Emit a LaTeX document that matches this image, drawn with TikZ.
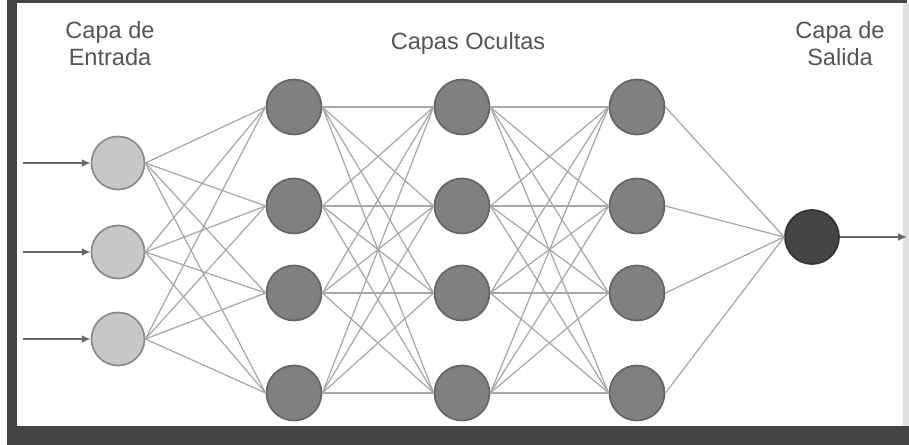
\documentclass[tikz,border=0pt]{standalone}
\usepackage{fontspec}
\setmainfont{Liberation Sans}
\usetikzlibrary{arrows.meta}
\definecolor{frame}{HTML}{444444}
\definecolor{labelgray}{HTML}{555555}
\definecolor{wire}{HTML}{A8A8A8}
\begin{document}
\begin{tikzpicture}[
  inp/.style={circle,draw=black!45,fill=black!22,line width=0.5pt,minimum size=0.53cm,inner sep=0pt},
  hid/.style={circle,draw=black!60,fill=black!50,line width=0.5pt,minimum size=0.55cm,inner sep=0pt},
  outp/.style={circle,draw=black!80,fill=black!73,line width=0.5pt,minimum size=0.54cm,inner sep=0pt},
  wire/.style={draw=wire,line width=0.35pt},
  feed/.style={draw=black!60,line width=0.45pt,-{Latex[length=2.5pt,width=2.2pt]}},
  ttl/.style={align=center,text=labelgray,font=\fontsize{6.7}{7.7}\selectfont},
]
  % canvas and frame
  \useasboundingbox (0,0) rectangle (9.09,4.45);
  \fill[white] (0,0) rectangle (9.09,4.45);
  \fill[black!12] (9.03,0.19) rectangle (9.09,4.42);
  \fill[frame] (0.07,0) rectangle (0.17,4.45);
  \fill[frame] (0.07,0) rectangle (9.09,0.19);
  \fill[frame] (0.07,4.42) rectangle (9.07,4.45);

  % titles
  \node[ttl] (tin)  at (1.10,4.01) {Capa de\\Entrada};
  \node[ttl] (thid) at (4.68,4.02) {Capas Ocultas};
  \node[ttl] (tout) at (8.40,4.01) {Capa de\\Salida};

  % input layer
  \coordinate (s1) at (0.23,2.82);
  \coordinate (s2) at (0.23,1.93);
  \coordinate (s3) at (0.23,1.06);
  \node[inp] (i1) at (1.18,2.82) {};
  \node[inp] (i2) at (1.18,1.93) {};
  \node[inp] (i3) at (1.18,1.06) {};

  % hidden layers
  \node[hid] (a1) at (2.94,3.38) {};
  \node[hid] (a2) at (2.94,2.39) {};
  \node[hid] (a3) at (2.94,1.52) {};
  \node[hid] (a4) at (2.94,0.52) {};
  \node[hid] (b1) at (4.62,3.38) {};
  \node[hid] (b2) at (4.62,2.39) {};
  \node[hid] (b3) at (4.62,1.52) {};
  \node[hid] (b4) at (4.62,0.52) {};
  \node[hid] (c1) at (6.37,3.38) {};
  \node[hid] (c2) at (6.37,2.39) {};
  \node[hid] (c3) at (6.37,1.52) {};
  \node[hid] (c4) at (6.37,0.52) {};

  % output layer
  \node[outp] (o1) at (8.12,2.08) {};
  \coordinate (e1) at (9.07,2.08);

  % connections
  \foreach \i in {1,2,3}
    \foreach \j in {1,2,3,4}
      \draw[wire] (i\i.east) -- (a\j.west);
  \foreach \i in {1,2,3,4}
    \foreach \j in {1,2,3,4} {
      \draw[wire] (a\i.east) -- (b\j.west);
      \draw[wire] (b\i.east) -- (c\j.west);
    }
  \foreach \i in {1,2,3,4}
    \draw[wire] (c\i.east) -- (o1.west);

  \draw[feed] (s1) -- (i1);
  \draw[feed] (s2) -- (i2);
  \draw[feed] (s3) -- (i3);
  \draw[feed] (o1) -- (e1);
\end{tikzpicture}
\end{document}
